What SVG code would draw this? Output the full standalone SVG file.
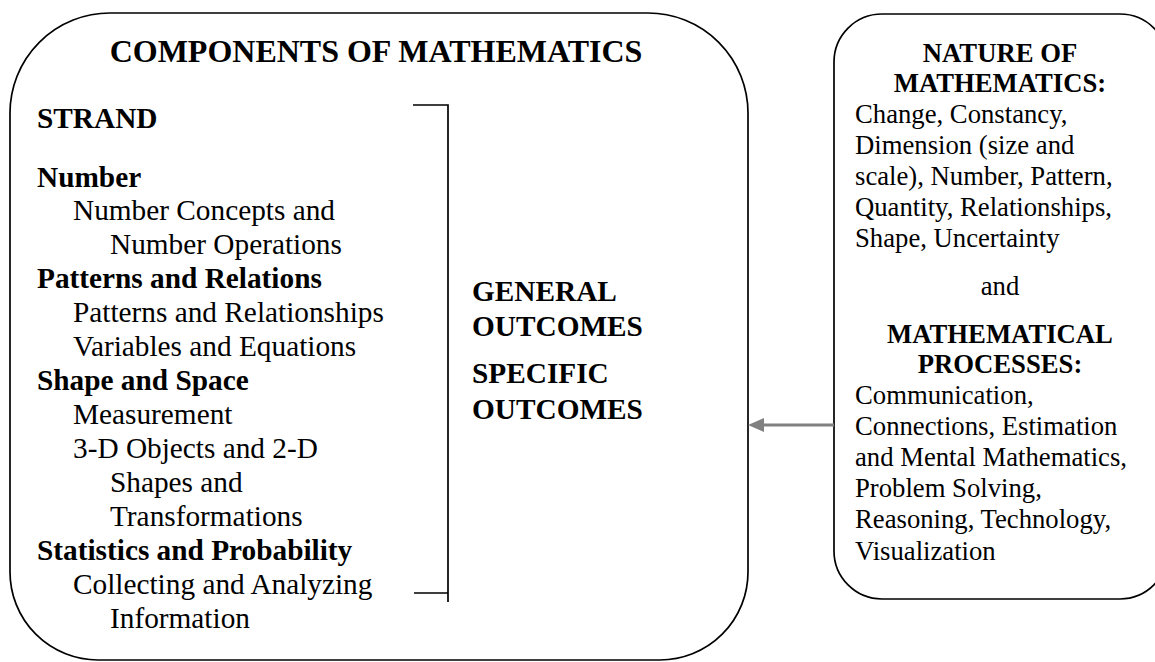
<svg xmlns="http://www.w3.org/2000/svg" width="1155" height="662" viewBox="0 0 1155 662">
<style>
text{font-family:"Liberation Serif","Times New Roman",serif;fill:#000}
.t{font-size:32px;font-weight:bold}
.b{font-size:29.3px;font-weight:bold}
.r{font-size:29.3px}
.rb{font-size:26.7px;font-weight:bold}
.rr{font-size:26.7px}
.box{fill:#fff;stroke:#000;stroke-width:1.7}
</style>
<rect width="1155" height="662" fill="#fff"/>
<g id="components">
<path class="box" d="M110,13 H648 A100,100 0 0 1 748,113 V572 A88,88 0 0 1 660,660 H98 A88,88 0 0 1 10,572 V113 A100,100 0 0 1 110,13 Z"/>
<text class="t" x="376" y="62" text-anchor="middle">COMPONENTS OF MATHEMATICS</text>
<text class="b" x="37" y="128">STRAND</text>
<text class="b" x="37" y="187">Number</text>
<text class="r" x="73" y="220">Number Concepts and</text>
<text class="r" x="110" y="254">Number Operations</text>
<text class="b" x="37" y="288">Patterns and Relations</text>
<text class="r" x="73" y="322">Patterns and Relationships</text>
<text class="r" x="73" y="356">Variables and Equations</text>
<text class="b" x="37" y="390">Shape and Space</text>
<text class="r" x="73" y="424">Measurement</text>
<text class="r" x="73" y="458">3-D Objects and 2-D</text>
<text class="r" x="110" y="492">Shapes and</text>
<text class="r" x="110" y="526">Transformations</text>
<text class="b" x="37" y="560">Statistics and Probability</text>
<text class="r" x="73" y="594">Collecting and Analyzing</text>
<text class="r" x="110" y="628">Information</text>
<path d="M413,105 H448 V602 M414,593 H448" fill="none" stroke="#000" stroke-width="1.7"/>
<text class="b" x="472" y="301">GENERAL</text>
<text class="b" x="472" y="336">OUTCOMES</text>
<text class="b" x="472" y="383">SPECIFIC</text>
<text class="b" x="472" y="419">OUTCOMES</text>
</g>
<g id="nature">
<rect class="box" x="834" y="14" width="334" height="585" rx="48" ry="48"/>
<text class="rb" x="1000" y="62" text-anchor="middle">NATURE OF</text>
<text class="rb" x="1000" y="92" text-anchor="middle">MATHEMATICS:</text>
<text class="rr" x="855" y="123">Change, Constancy,</text>
<text class="rr" x="855" y="154">Dimension (size and</text>
<text class="rr" x="855" y="185">scale), Number, Pattern,</text>
<text class="rr" x="855" y="216">Quantity, Relationships,</text>
<text class="rr" x="855" y="247">Shape, Uncertainty</text>
<text class="rr" x="1000" y="295" text-anchor="middle">and</text>
<text class="rb" x="1000" y="343" text-anchor="middle">MATHEMATICAL</text>
<text class="rb" x="1000" y="373" text-anchor="middle">PROCESSES:</text>
<text class="rr" x="855" y="404">Communication,</text>
<text class="rr" x="855" y="435">Connections, Estimation</text>
<text class="rr" x="855" y="466">and Mental Mathematics,</text>
<text class="rr" x="855" y="497">Problem Solving,</text>
<text class="rr" x="855" y="528">Reasoning, Technology,</text>
<text class="rr" x="855" y="560">Visualization</text>
</g>
<g id="connectors">
<line x1="834" y1="425" x2="764" y2="425" stroke="#808080" stroke-width="3"/>
<polygon points="748,425 764,418 764,432" fill="#808080"/>
</g>
</svg>
